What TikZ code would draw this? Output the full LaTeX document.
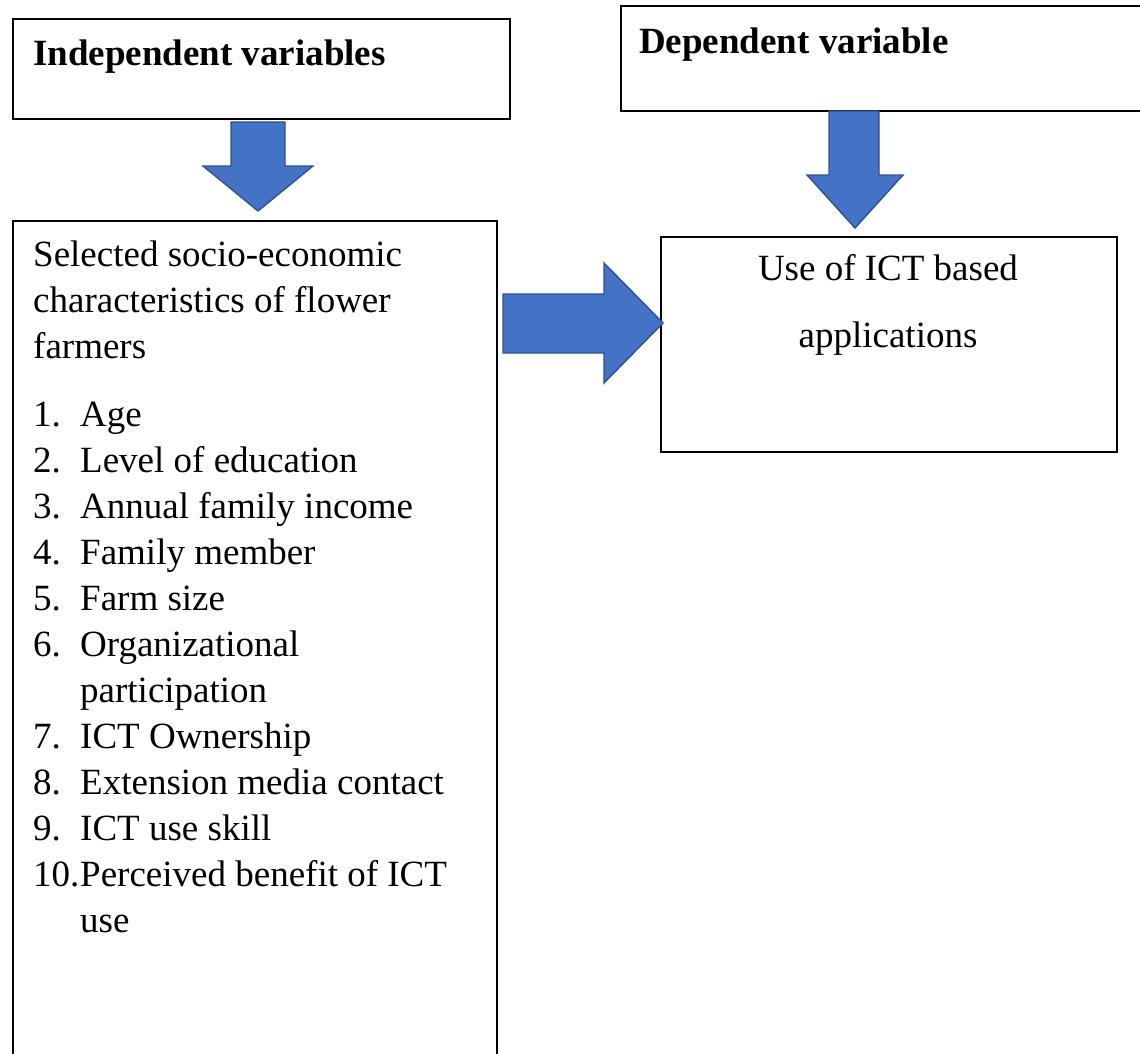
\documentclass[tikz,border=0pt]{standalone}
\usepackage{fontspec}
\setmainfont{Liberation Serif}
\usetikzlibrary{positioning}
\definecolor{arrowblue}{HTML}{4472C4}
\definecolor{arrowedge}{HTML}{2F528F}
\tikzset{
  varbox/.style={draw=black, line width=1.6pt, anchor=north west, inner sep=0pt},
  txt/.style={anchor=base west, inner sep=0pt, font=\fontsize{37}{46}\selectfont},
  headtxt/.style={txt, font=\fontsize{37}{46}\selectfont\bfseries},
  blockarrow/.style={fill=arrowblue, draw=arrowedge, line width=1.4pt, line join=miter},
}
\begin{document}
\begin{tikzpicture}[x=1pt,y=-1pt]
\useasboundingbox (0,0) rectangle (1140,1054);
% boxes
\node[varbox, minimum width=497pt, minimum height=100pt] (indep) at (12,18) {};
\node[varbox, minimum width=530pt, minimum height=105pt] (dep) at (620,5) {};
\node[varbox, minimum width=484pt, minimum height=845pt] (selected) at (12,220) {};
\node[varbox, minimum width=456pt, minimum height=215pt] (useict) at (660,236) {};
% headings
\node[headtxt] (indeptxt) at (33,66) {Independent variables};
\node[headtxt] (deptxt) at (639,54) {Dependent variable};
% block arrows
\filldraw[blockarrow] (231,122) -- (285,122) -- (285,166) -- (313,166) -- (258,211) -- (203,166) -- (231,166) -- cycle;
\filldraw[blockarrow] (829,111) -- (879,111) -- (879,175) -- (903,175) -- (855,228) -- (807,175) -- (829,175) -- cycle;
\filldraw[blockarrow] (503,294) -- (604,294) -- (604,263) -- (663,323) -- (604,383) -- (604,353) -- (503,353) -- cycle;
% left box text
\node[txt] (sel1) at (33,266) {Selected socio-economic};
\node[txt] (sel2) at (33,312) {characteristics of flower};
\node[txt] (sel3) at (33,358) {farmers};
\foreach \n/\t [count=\i] in {1./Age, 2./Level of education, 3./Annual family income,
    4./Family member, 5./Farm size, 6./Organizational, {}/participation,
    7./ICT Ownership, 8./Extension media contact, 9./ICT use skill,
    10./Perceived benefit of ICT, {}/use}
{
  \node[txt] (num\i) at (33,{426+46*(\i-1)}) {\n};
  \node[txt] (item\i) at (80,{426+46*(\i-1)}) {\t};
}
% right box text
\node[txt, anchor=base] (use1) at (888,280) {Use of ICT based};
\node[txt, anchor=base] (use2) at (888,347) {applications};
\end{tikzpicture}
\end{document}
